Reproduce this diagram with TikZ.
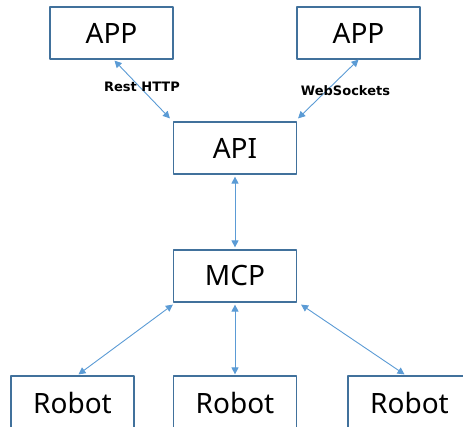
\documentclass[tikz,border=0pt]{standalone}
\usepackage{fontspec}
\setmainfont{Noto Sans}
\newfontfamily\lblfont{DejaVu Sans}
\usetikzlibrary{arrows.meta}
\definecolor{boxline}{HTML}{41719C}
\definecolor{linkline}{HTML}{5B9BD5}
\tikzset{
	box/.style={draw=boxline,line width=1.2pt,minimum width=123pt,minimum height=52pt,inner sep=0pt,font=\fontsize{28}{30}\selectfont},
	link/.style={linkline,line width=0.9pt,{Triangle[length=7pt,width=7pt]}-{Triangle[length=7pt,width=7pt]}},
	lbl/.style={font=\lblfont\bfseries\fontsize{13}{14}\selectfont,inner sep=0pt}
}
\begin{document}
\begin{tikzpicture}[x=1pt,y=-1pt,line join=round]
				\useasboundingbox (0,0) rectangle (463,427);
				\clip (0,0) rectangle (463,427);
				% boxes
				\node[box] (appL) at (111.5,33) {APP};
				\node[box] (appR) at (358.5,33) {APP};
				\node[box] (api) at (235,148) {API};
				\node[box] (mcp) at (235,276) {MCP};
				\node[box,minimum height=54pt] (robotL) at (72.5,403) {Robot};
				\node[box,minimum height=54pt] (robotM) at (235,403) {Robot};
				\node[box,minimum height=54pt] (robotR) at (409.5,403) {Robot};
				% links
				\draw[link] ([xshift=3pt,yshift=-1pt]appL.south) -- ([shift={(-3pt,3pt)}]api.north west);
				\draw[link] (appR.south) -- ([shift={(1pt,3pt)}]api.north east);
				\draw[link] ([yshift=-2pt]api.south) -- ([yshift=2pt]mcp.north);
				\draw[link] ([yshift=-2pt]mcp.south west) -- ([xshift=6pt,yshift=1pt]robotL.north);
				\draw[link] ([yshift=-2pt]mcp.south) -- ([yshift=1pt]robotM.north);
				\draw[link] ([shift={(4pt,-2pt)}]mcp.south east) -- ([xshift=-5pt,yshift=1pt]robotR.north);
				% protocol labels
				\node[lbl] (rest) at (142,87) {Rest HTTP};
				\node[lbl] (ws) at (345.5,91) {WebSockets};
			\end{tikzpicture}
\end{document}
